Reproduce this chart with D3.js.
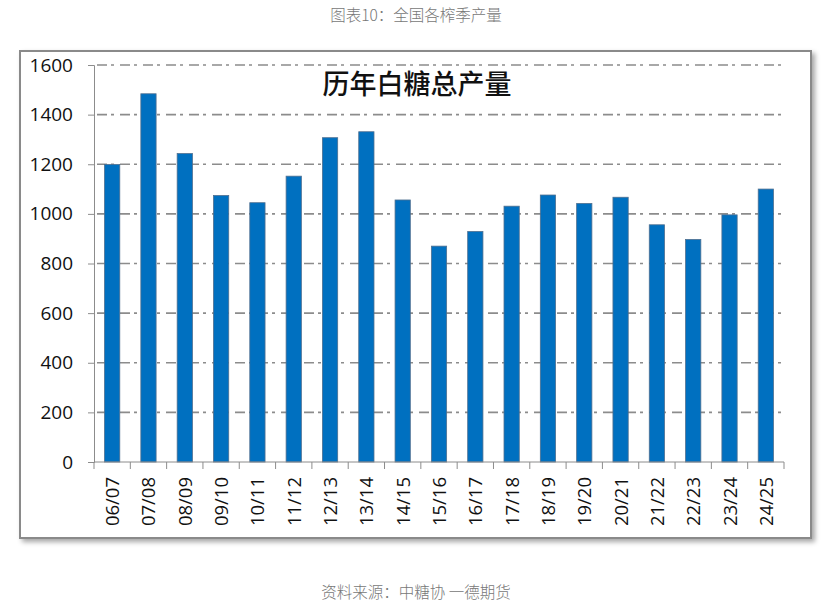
<!DOCTYPE html>
<html>
<head>
<meta charset="utf-8">
<script src="https://cdn.jsdelivr.net/npm/d3@7"></script>
<style>
  body { margin: 0; background: #fff; }
  svg { display: block; }
</style>
</head>
<body>
<svg id="chart" width="832" height="606"></svg>
<script>
const seasons = ["06/07", "07/08", "08/09", "09/10", "10/11", "11/12", "12/13", "13/14", "14/15",
  "15/16", "16/17", "17/18", "18/19", "19/20", "20/21", "21/22", "22/23", "23/24", "24/25"];
const output = [1199, 1484, 1243, 1074, 1045, 1152, 1307, 1331, 1056,
  870, 929, 1031, 1076, 1042, 1067, 956, 897, 996, 1100];
const yTicks = [0, 200, 400, 600, 800, 1000, 1200, 1400, 1600];

const caption = "图表10：全国各榨季产量";
const title = "历年白糖总产量";
const source = "资料来源：中糖协 一德期货";

const svg = d3.select("#chart");
const plot = { left: 94, right: 784, top: 65, bottom: 462 };

const defs = svg.append("defs");
const shadow = defs.append("filter").attr("id", "shadow")
  .attr("x", "-5%").attr("y", "-5%").attr("width", "110%").attr("height", "110%");
shadow.append("feDropShadow").attr("dx", 3).attr("dy", 3).attr("stdDeviation", 2.5)
  .attr("flood-color", "#000").attr("flood-opacity", 0.35);

svg.append("text")
  .attr("x", 416).attr("y", 21)
  .attr("text-anchor", "middle")
  .style("font-family", "'Noto Sans CJK SC', sans-serif")
  .style("font-weight", 300)
  .style("font-size", "15.5px")
  .style("fill", "#777")
  .text(caption);

svg.append("rect")
  .attr("x", 20).attr("y", 51).attr("width", 791).attr("height", 487)
  .attr("fill", "#fff")
  .attr("stroke", "#8a8a8a")
  .attr("stroke-width", 2)
  .attr("filter", "url(#shadow)");

const x = d3.scaleBand().domain(seasons).range([plot.left, plot.right]).paddingInner(0.58).paddingOuter(0.29);
const y = d3.scaleLinear().domain([0, 1600]).range([plot.bottom, plot.top]);

// grid
svg.append("g")
  .selectAll("line")
  .data(yTicks.filter(d => d > 0))
  .join("line")
  .attr("x1", plot.left).attr("x2", plot.right)
  .attr("y1", d => y(d)).attr("y2", d => y(d))
  .attr("stroke", "#8c8c8c")
  .attr("stroke-width", 1.6)
  .attr("stroke-dasharray", "10,4,3,6")
  .attr("stroke-dashoffset", -3);

// bars
svg.append("g")
  .selectAll("rect")
  .data(seasons)
  .join("rect")
  .attr("x", d => x(d))
  .attr("y", (d, i) => y(output[i]))
  .attr("width", x.bandwidth())
  .attr("height", (d, i) => plot.bottom - y(output[i]))
  .attr("fill", "#0070c0")
  .attr("stroke", "#4f6f8f")
  .attr("stroke-width", 0.8);

// y axis
const yAxis = svg.append("g")
  .attr("transform", `translate(${plot.left},0)`)
  .call(d3.axisLeft(y).tickValues(yTicks).tickSize(6).tickPadding(15).tickFormat(d3.format("d")));
yAxis.select(".domain").attr("stroke", "#8c8c8c");
yAxis.selectAll(".tick line").attr("stroke", "#8c8c8c");
yAxis.selectAll("text")
  .style("font-family", "'Open Sans', sans-serif")
  .style("font-size", "19px")
  .style("fill", "#111");

// x axis
const xg = svg.append("g").attr("transform", `translate(0,${plot.bottom})`);
xg.append("line")
  .attr("x1", plot.left).attr("x2", plot.right)
  .attr("stroke", "#8c8c8c").attr("stroke-width", 1);
const step = x.step();
xg.selectAll("line.sep")
  .data(d3.range(seasons.length + 1))
  .join("line")
  .attr("class", "sep")
  .attr("x1", i => plot.left + i * step).attr("x2", i => plot.left + i * step)
  .attr("y1", 0).attr("y2", 7)
  .attr("stroke", "#8c8c8c");
xg.selectAll("text")
  .data(seasons)
  .join("text")
  .attr("transform", d => `translate(${x(d) + x.bandwidth() / 2 + 7},15) rotate(-90)`)
  .attr("text-anchor", "end")
  .style("font-family", "'Open Sans', sans-serif")
  .style("font-size", "18.5px")
  .style("fill", "#111")
  .text(d => d);

svg.append("text")
  .attr("x", 417).attr("y", 94)
  .attr("text-anchor", "middle")
  .style("font-family", "'Noto Sans CJK SC', sans-serif")
  .style("font-weight", 500)
  .style("font-size", "27px")
  .style("fill", "#111")
  .text(title);

svg.append("text")
  .attr("x", 416).attr("y", 598)
  .attr("text-anchor", "middle")
  .style("font-family", "'Noto Sans CJK SC', sans-serif")
  .style("font-weight", 300)
  .style("font-size", "15.5px")
  .style("fill", "#777")
  .text(source);
</script>
</body>
</html>
